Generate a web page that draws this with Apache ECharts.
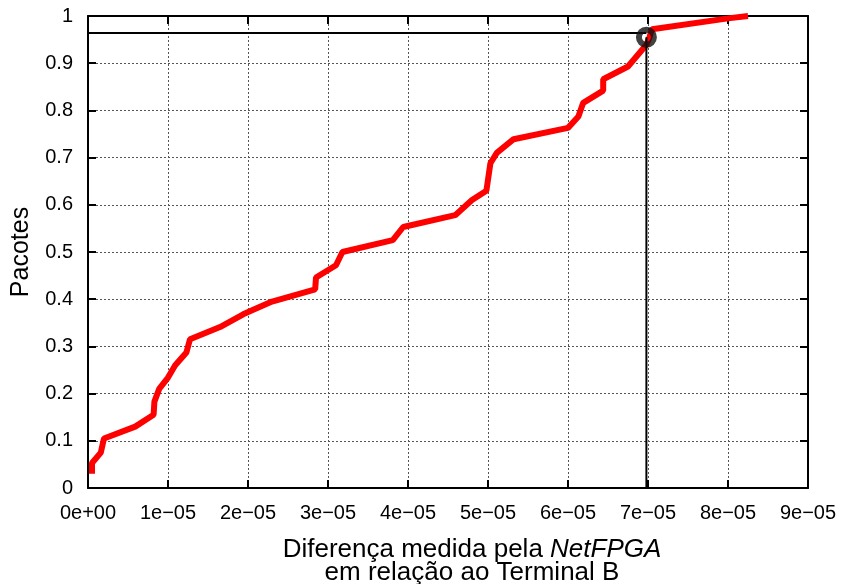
<!DOCTYPE html>
<html>
<head>
<meta charset="utf-8">
<script src="https://cdn.jsdelivr.net/npm/echarts@6/dist/echarts.min.js"></script>
<style>html,body{margin:0;padding:0;background:#fff}#c{width:844px;height:584px}</style>
</head>
<body>
<div id="c"></div>
<script>
// CDF curve: x in seconds, y = fraction of packets
const diffX = [0.05e-5,0.05e-5,0.16e-5,0.2e-5,0.59e-5,0.82e-5,0.83e-5,0.89e-5,1.0e-5,1.09e-5,1.23e-5,1.275e-5,1.65e-5,1.94e-5,2.03e-5,2.3e-5,2.84e-5,2.85e-5,3.1e-5,3.18e-5,3.81e-5,3.94e-5,4.59e-5,4.8e-5,4.98e-5,5.03e-5,5.11e-5,5.32e-5,6.0e-5,6.13e-5,6.19e-5,6.44e-5,6.44e-5,6.75e-5,6.98e-5,7.02e-5,7.05e-5,8.0e-5,8.25e-5];
const cdfY  = [0.03,0.053,0.075,0.105,0.13,0.155,0.183,0.21,0.234,0.26,0.287,0.315,0.341,0.368,0.375,0.395,0.421,0.446,0.472,0.50,0.525,0.553,0.578,0.61,0.63,0.688,0.71,0.739,0.763,0.787,0.816,0.842,0.866,0.893,0.939,0.956,0.972,0.995,1.0];
// highlighted point
const markX = 6.98e-5;
const markY = 0.955;
const markLineY = 0.964;
// axis ticks
const xTickLabels = ['0e+00','1e\u221205','2e\u221205','3e\u221205','4e\u221205','5e\u221205','6e\u221205','7e\u221205','8e\u221205','9e\u221205'];
const yTickLabels = ['0','0.1','0.2','0.3','0.4','0.5','0.6','0.7','0.8','0.9','1'];

const curve = diffX.map((x, i) => [x, cdfY[i]]);
const FONT = 'Liberation Sans';
const frame = {show: true, onZero: false, lineStyle: {color: '#000', width: 2}};
const tickIn = {show: true, inside: true, length: 8, lineStyle: {color: '#000', width: 2}};
const grid = {show: true, lineStyle: {color: '#555', width: 1, type: [2, 2]}};

const chart = echarts.init(document.getElementById('c'), null, {renderer: 'canvas'});
chart.setOption({
  animation: false,
  grid: {left: 88, right: 36, top: 16, bottom: 96, containLabel: false},
  xAxis: [{
    type: 'value', min: 0, max: 9e-5, interval: 1e-5, position: 'bottom',
    axisLine: frame, axisTick: tickIn, splitLine: grid,
    axisLabel: {margin: 15, color: '#000', fontFamily: FONT, fontSize: 20,
      formatter: v => xTickLabels[Math.round(v * 1e5)]}
  }, {
    type: 'value', min: 0, max: 9e-5, interval: 1e-5, position: 'top',
    axisLine: frame, axisTick: tickIn, splitLine: {show: false}, axisLabel: {show: false}
  }],
  yAxis: [{
    type: 'value', min: 0, max: 1, interval: 0.1, position: 'left',
    axisLine: frame, axisTick: tickIn, splitLine: grid,
    name: 'Pacotes', nameLocation: 'middle', nameGap: 54,
    nameTextStyle: {color: '#000', fontFamily: FONT, fontSize: 25},
    axisLabel: {margin: 15, color: '#000', fontFamily: FONT, fontSize: 20,
      formatter: v => yTickLabels[Math.round(v * 10)]}
  }, {
    type: 'value', min: 0, max: 1, interval: 0.1, position: 'right',
    axisLine: frame, axisTick: tickIn, splitLine: {show: false}, axisLabel: {show: false}
  }],
  series: [{
    type: 'line', data: curve, showSymbol: false, symbol: 'none',
    lineStyle: {color: '#ff0000', width: 6}, z: 3
  }, {
    type: 'line', data: [[0, markLineY], [markX, markLineY]], symbol: 'none',
    lineStyle: {color: '#000', width: 2}, z: 4
  }, {
    type: 'line', data: [[markX, 0], [markX, markY]], symbol: 'none',
    lineStyle: {color: '#000', width: 2}, z: 4
  }, {
    type: 'scatter', data: [[markX, markY]], symbol: 'circle', symbolSize: 15,
    itemStyle: {color: 'rgba(0,0,0,0)', borderColor: '#111', borderWidth: 6}, z: 5
  }],
  graphic: [{
    type: 'text', x: 472, y: 538, z: 10,
    style: {
      text: 'Diferença medida pela {i|NetFPGA}\nem relação ao Terminal B',
      font: '26px "Liberation Sans"', fill: '#000', align: 'center', verticalAlign: 'top', lineHeight: 23,
      rich: {i: {fontStyle: 'italic', fontFamily: FONT, fontSize: 26, lineHeight: 23}}
    }
  }]
});
</script>
</body>
</html>
